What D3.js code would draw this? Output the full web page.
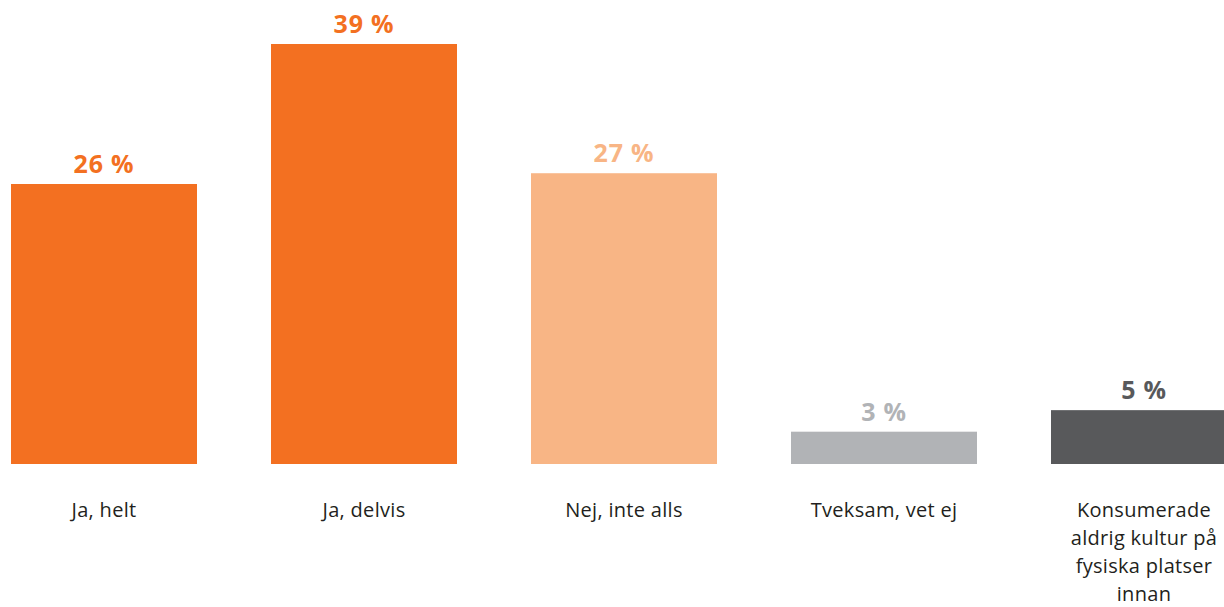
<!DOCTYPE html>
<html>
<head>
<meta charset="utf-8">
<script src="https://cdn.jsdelivr.net/npm/d3@7"></script>
<style>
  html, body { margin: 0; padding: 0; background: #fff; }
  svg { display: block; }
</style>
</head>
<body>
<svg id="chart" width="1224" height="607"></svg>
<script>
// Survey answers and their shares (%)
const categories = [
  ["Ja, helt"],
  ["Ja, delvis"],
  ["Nej, inte alls"],
  ["Tveksam, vet ej"],
  ["Konsumerade", "aldrig kultur på", "fysiska platser", "innan"]
];
const values = [26, 39, 27, 3, 5];
const valueLabels = ["26 %", "39 %", "27 %", "3 %", "5 %"];
const colors = ["#F37021", "#F37021", "#F8B585", "#B1B3B6", "#58595B"];

const svg = d3.select("#chart");
const font = "'Open Sans', sans-serif";

const x = d3.scaleBand()
  .domain(d3.range(values.length))
  .range([-26, 1274])
  .paddingInner(74 / 260)
  .paddingOuter(37 / 260);

const y = d3.scaleLinear()
  .domain([0, 39])
  .range([464, 44]);

const g = svg.append("g");

g.selectAll("rect.bar")
  .data(values)
  .join("rect")
  .attr("class", "bar")
  .attr("x", (d, i) => x(i))
  .attr("width", x.bandwidth())
  .attr("y", d => y(d))
  .attr("height", d => y(0) - y(d))
  .attr("fill", (d, i) => colors[i]);

g.selectAll("text.value")
  .data(values)
  .join("text")
  .attr("class", "value")
  .attr("x", (d, i) => x(i) + x.bandwidth() / 2)
  .attr("y", d => y(d) - 11)
  .attr("text-anchor", "middle")
  .attr("font-family", font)
  .attr("font-weight", 700)
  .attr("font-size", 25)
  .attr("letter-spacing", 0.8)
  .attr("fill", (d, i) => colors[i])
  .text((d, i) => valueLabels[i]);

const cat = g.selectAll("text.cat")
  .data(categories)
  .join("text")
  .attr("class", "cat")
  .attr("x", (d, i) => x(i) + x.bandwidth() / 2)
  .attr("y", 517)
  .attr("text-anchor", "middle")
  .attr("font-family", font)
  .attr("font-size", 20)
  .attr("letter-spacing", 0.3)
  .attr("fill", "#231F20");

cat.selectAll("tspan")
  .data(d => d)
  .join("tspan")
  .attr("x", function () { return d3.select(this.parentNode).attr("x"); })
  .attr("dy", (d, j) => j === 0 ? 0 : 28)
  .text(d => d);
</script>
</body>
</html>
